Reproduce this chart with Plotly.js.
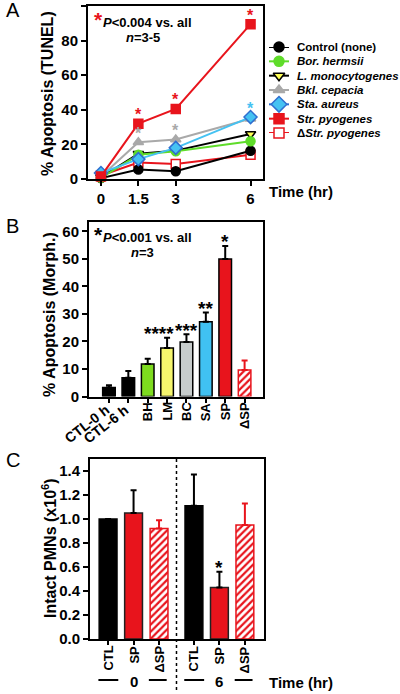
<!DOCTYPE html>
<html><head><meta charset="utf-8">
<script src="https://cdn.plot.ly/plotly-3.0.1.min.js"></script>
<style>html,body{margin:0;padding:0;background:#fff}#chart{width:400px;height:694px}</style>
</head><body><div id="chart"></div>
<script>
// ---------- Panel A data ----------
const timeA = [0, 1.5, 3, 6];
const timeTickText = ['0', '1.5', '3', '6'];
const seriesNames = ['Control (none)', 'Bor. hermsii', 'L. monocytogenes', 'Bkl. cepacia', 'Sta. aureus', 'Str. pyogenes', 'ΔStr. pyogenes'];
const legendTexts = ['Control (none)', '<i>Bor. hermsii</i>', '<i>L. monocytogenes</i>', '<i>Bkl. cepacia</i>', '<i>Sta. aureus</i>', '<i>Str. pyogenes</i>', 'Δ<i>Str. pyogenes</i>'];
const control = [0.5, 5.5, 4.5, 16.3];
const borHermsii = [0.7, 14.0, 16.0, 21.8];
const lMonocytogenes = [1.0, 14.6, 16.4, 26.0];
const bklCepacia = [1.5, 21.2, 22.8, 34.8];
const staAureus = [3.5, 11.5, 18.0, 35.8];
const strPyogenes = [1.5, 32.0, 40.5, 89.5];
const deltaStrPyogenes = [2.0, 9.5, 8.7, 14.0];
// significance marks in A: [series index, time index]
const starsA = [[5, 1], [5, 2], [5, 3], [3, 1], [3, 2], [4, 3]];

// ---------- Panel B data ----------
const bCategories = ['CTL-0 h', 'CTL-6 h', 'BH', 'LM', 'BC', 'SA', 'SP', 'ΔSP'];
const bMeans = [3.3, 6.8, 11.8, 17.6, 19.8, 27.2, 50.0, 9.6];
const bSem = [0.8, 2.5, 1.9, 3.7, 2.8, 3.3, 4.7, 3.5];
const bStars = ['', '', '', '****', '***', '**', '*', ''];

// ---------- Panel C data ----------
const cTimes = ['0', '6'];
const cLabels = ['CTL', 'SP', 'ΔSP'];
const cCTL = [1.00, 1.11];
const cSP = [1.05, 0.43];
const cDSP = [0.92, 0.95];
const cCTLsem = [0, 0.26];
const cSPsem = [0.19, 0.13];
const cDSPsem = [0.07, 0.18];
const cStars = [['', '', ''], ['', '*', '']];

// ---------- styles ----------
const FONT = 'Liberation Sans, Arial, sans-serif';
const RED = '#e8141c';
const H = 694, W = 400;
const py = p => (H - p) / H;   // pixel y -> paper
const px = p => p / W;         // pixel x -> paper

const styleA = [
  {color: '#000000', symbol: 'circle', fill: '#000000', line: '#000000'},
  {color: '#5fdc2a', symbol: 'circle', fill: '#5fdc2a', line: '#5fdc2a'},
  {color: '#000000', symbol: 'triangle-down', fill: '#ffff55', line: '#000000'},
  {color: '#a9a9a9', symbol: 'triangle-up', fill: '#a9a9a9', line: '#a9a9a9'},
  {color: '#45c2f2', symbol: 'diamond', fill: '#45c2f2', line: '#2f6fd0'},
  {color: RED, symbol: 'square', fill: RED, line: RED},
  {color: RED, symbol: 'square', fill: '#ffffff', line: RED}
];
const seriesA = [control, borHermsii, lMonocytogenes, bklCepacia, staAureus, strPyogenes, deltaStrPyogenes];

const traces = [];
const drawOrder = [6, 0, 2, 1, 3, 4, 5];
drawOrder.forEach(i => {
  const s = styleA[i];
  traces.push({
    type: 'scatter', mode: 'lines+markers', name: seriesNames[i],
    x: timeA, y: seriesA[i], xaxis: 'x', yaxis: 'y', cliponaxis: false,
    line: {color: s.color, width: 2},
    marker: {symbol: s.symbol, size: s.symbol === 'diamond' ? 10 : 9, color: s.fill, line: {color: s.line, width: 1.5}},
    showlegend: false
  });
});

// custom legend on its own hidden axes (x4/y4)
seriesNames.forEach((n, i) => {
  const s = styleA[i];
  traces.push({type: 'scatter', mode: 'lines', x: [0, 1], y: [i, i], xaxis: 'x4', yaxis: 'y4',
    line: {color: s.symbol === 'diamond' ? s.line : s.color, width: 2}, showlegend: false, hoverinfo: 'skip'});
  traces.push({type: 'scatter', mode: 'markers', x: [0.5], y: [i], xaxis: 'x4', yaxis: 'y4', cliponaxis: false,
    marker: {symbol: s.symbol, size: s.symbol === 'diamond' ? 12 : 10, color: s.fill, line: {color: s.line, width: 1.5}},
    showlegend: false, hoverinfo: 'skip'});
});

// Panel B bars
const bSolidColors = ['#000000', '#000000', '#7edb1f', '#f5f56d', '#c7cccc', '#40c1f2', RED];
traces.push({
  type: 'bar', x: bCategories.slice(0, 7), y: bMeans.slice(0, 7), xaxis: 'x2', yaxis: 'y2', width: 0.65,
  marker: {color: bSolidColors, line: {color: '#000000', width: 1.5}},
  error_y: {type: 'data', symmetric: false, array: bSem.slice(0, 7), arrayminus: bSem.slice(0, 7).map(() => 0), color: '#000000', thickness: 2, width: 3},
  showlegend: false
});
traces.push({
  type: 'bar', x: bCategories.slice(7), y: bMeans.slice(7), xaxis: 'x2', yaxis: 'y2', width: 0.65,
  marker: {color: '#ffffff', line: {color: RED, width: 1.5}, pattern: {shape: '/', fgcolor: RED, bgcolor: '#ffffff', size: 5, solidity: 0.45, fillmode: 'replace'}},
  error_y: {type: 'data', symmetric: false, array: bSem.slice(7), arrayminus: [0], color: RED, thickness: 2, width: 3},
  showlegend: false
});

// Panel C bars
const groupStep = 3.37;
const cPos = (g, i) => g * groupStep + i;
const cX = k => cTimes.map((t, g) => cPos(g, k));
traces.push({
  type: 'bar', x: cX(0), y: cCTL, xaxis: 'x3', yaxis: 'y3', width: 0.7,
  marker: {color: '#000000', line: {color: '#000000', width: 1.5}},
  error_y: {type: 'data', symmetric: false, array: cCTLsem, arrayminus: [0, 0], color: '#000000', thickness: 2, width: 3},
  showlegend: false
});
traces.push({
  type: 'bar', x: cX(1), y: cSP, xaxis: 'x3', yaxis: 'y3', width: 0.7,
  marker: {color: RED, line: {color: '#222222', width: 1.5}},
  error_y: {type: 'data', symmetric: false, array: cSPsem, arrayminus: [0, 0], color: '#000000', thickness: 2, width: 3},
  showlegend: false
});
traces.push({
  type: 'bar', x: cX(2), y: cDSP, xaxis: 'x3', yaxis: 'y3', width: 0.7,
  marker: {color: '#ffffff', line: {color: RED, width: 1.5}, pattern: {shape: '/', fgcolor: RED, bgcolor: '#ffffff', size: 5, solidity: 0.45, fillmode: 'replace'}},
  error_y: {type: 'data', symmetric: false, array: cDSPsem, arrayminus: [0, 0], color: RED, thickness: 2, width: 3},
  showlegend: false
});

// ---------- annotations ----------
const ann = [];
const bold = (size, color) => ({family: FONT, size: size, color: color || '#000', weight: 'bold'});
// panel letters
[['A', 10], ['B', 226], ['C', 460]].forEach(([t, y]) => ann.push({text: t, xref: 'paper', yref: 'paper', x: px(4), y: py(y), xanchor: 'left', yanchor: 'middle', showarrow: false, font: {family: FONT, size: 20, color: '#000'}}));
// axis titles
ann.push({text: '% Apoptosis (TUNEL)', textangle: -90, xref: 'paper', yref: 'paper', x: px(47), y: py(94), xanchor: 'center', yanchor: 'middle', showarrow: false, font: bold(16)});
ann.push({text: '% Apoptosis (Morph.)', textangle: -90, xref: 'paper', yref: 'paper', x: px(49), y: py(315), xanchor: 'center', yanchor: 'middle', showarrow: false, font: bold(16)});
ann.push({text: 'Intact PMNs (x10<sup>6</sup>)', textangle: -90, xref: 'paper', yref: 'paper', x: px(49), y: py(548), xanchor: 'center', yanchor: 'middle', showarrow: false, font: bold(16)});
ann.push({text: 'Time (hr)', xref: 'paper', yref: 'paper', x: px(267), y: py(192), xanchor: 'left', yanchor: 'middle', showarrow: false, font: bold(15)});
ann.push({text: 'Time (hr)', xref: 'paper', yref: 'paper', x: px(267), y: py(682), xanchor: 'left', yanchor: 'middle', showarrow: false, font: bold(15)});
// stats text
ann.push({text: '*', xref: 'paper', yref: 'paper', x: px(92), y: py(19), xanchor: 'left', yanchor: 'middle', showarrow: false, font: bold(21, RED)});
ann.push({text: '<i>P</i><0.004 vs. all', xref: 'paper', yref: 'paper', x: px(101), y: py(22), xanchor: 'left', yanchor: 'middle', showarrow: false, font: bold(13)});
ann.push({text: '<i>n</i>=3-5', xref: 'paper', yref: 'paper', x: px(124), y: py(38), xanchor: 'left', yanchor: 'middle', showarrow: false, font: bold(13)});
ann.push({text: '*', xref: 'paper', yref: 'paper', x: px(92), y: py(234), xanchor: 'left', yanchor: 'middle', showarrow: false, font: bold(21)});
ann.push({text: '<i>P</i><0.001 vs. all', xref: 'paper', yref: 'paper', x: px(101), y: py(237), xanchor: 'left', yanchor: 'middle', showarrow: false, font: bold(13)});
ann.push({text: '<i>n</i>=3', xref: 'paper', yref: 'paper', x: px(129), y: py(253), xanchor: 'left', yanchor: 'middle', showarrow: false, font: bold(13)});
// legend texts
legendTexts.forEach((t, i) => ann.push({text: t, xref: 'paper', yref: 'y4', x: px(295), y: i, xanchor: 'left', yanchor: 'middle', showarrow: false, font: bold(11.5)}));
// stars in A
const starColorA = {5: RED, 3: '#a9a9a9', 4: '#45c2f2'};
starsA.forEach(([s, t]) => ann.push({text: '*', xref: 'x', yref: 'y', x: timeA[t], y: seriesA[s][t], yshift: 9, xanchor: 'center', yanchor: 'middle', showarrow: false, font: bold(16, starColorA[s])}));
// stars in B
bStars.forEach((t, i) => { if (t) ann.push({text: t, xref: 'x2', yref: 'y2', x: bCategories[i], y: bMeans[i] + bSem[i], xshift: t.length === 4 ? -8 : 0, yshift: 4, xanchor: 'center', yanchor: 'middle', showarrow: false, font: bold(19)}); });
// stars in C
const cSems = [cCTLsem, cSPsem, cDSPsem], cVals = [cCTL, cSP, cDSP];
cStars.forEach((row, g) => row.forEach((t, k) => { if (t) ann.push({text: t, xref: 'x3', yref: 'y3', x: cPos(g, k), y: cVals[k][g] + cSems[k][g], yshift: 4, xanchor: 'center', yanchor: 'middle', showarrow: false, font: bold(19)}); }));
// B tick labels
bCategories.forEach((c, i) => {
  if (i < 2) ann.push({text: c, textangle: -38, xref: 'x2', yref: 'paper', x: c, y: py(399), xanchor: 'right', yanchor: 'top', xshift: 6, showarrow: false, font: bold(14)});
  else ann.push({text: c, textangle: -90, xref: 'x2', yref: 'paper', x: c, y: py(400), xanchor: 'center', yanchor: 'top', showarrow: false, font: bold(13)});
});
// C tick labels and group labels
const shapes = [];
cTimes.forEach((t, g) => {
  cLabels.forEach((l, k) => ann.push({text: l, textangle: -90, xref: 'x3', yref: 'paper', x: cPos(g, k), y: py(644), xanchor: 'center', yanchor: 'top', showarrow: false, font: bold(13)}));
  const c = cPos(g, 1);
  ann.push({text: t, xref: 'x3', yref: 'paper', x: c, y: py(681), xanchor: 'center', yanchor: 'middle', showarrow: false, font: bold(15)});
  shapes.push({type: 'line', xref: 'x3', yref: 'paper', x0: cPos(g, 0) - 0.38, x1: c - 0.6, y0: py(680), y1: py(680), line: {color: '#000', width: 2}});
  shapes.push({type: 'line', xref: 'x3', yref: 'paper', x0: c + 0.6, x1: cPos(g, 2) + 0.3, y0: py(680), y1: py(680), line: {color: '#000', width: 2}});
});
const midC = (cPos(0, 2) + cPos(1, 0)) / 2;
shapes.push({type: 'line', xref: 'x3', yref: 'paper', x0: midC, x1: midC, y0: py(459), y1: py(690), line: {color: '#000', width: 1.5, dash: 'dot'}});

const axisCommon = {showline: true, linewidth: 2, linecolor: '#000', mirror: true, ticks: 'outside', ticklen: 5, tickwidth: 2, tickcolor: '#000', showgrid: false, zeroline: false, tickfont: {family: FONT, size: 15, color: '#000', weight: 'bold'}, fixedrange: true};

const layout = {
  width: W, height: H, margin: {l: 0, r: 0, t: 0, b: 0, pad: 0},
  paper_bgcolor: '#fff', plot_bgcolor: 'rgba(0,0,0,0)', showlegend: false, barmode: 'overlay',
  font: {family: FONT, color: '#000'},
  xaxis: Object.assign({}, axisCommon, {domain: [px(88), px(263)], range: [-0.52, 6.5], tickmode: 'array', tickvals: timeA, ticktext: timeTickText, anchor: 'y'}),
  yaxis: Object.assign({}, axisCommon, {domain: [py(179), py(6)], range: [0, 100], dtick: 20, anchor: 'x'}),
  xaxis2: Object.assign({}, axisCommon, {domain: [px(89), px(263)], type: 'category', categoryorder: 'array', categoryarray: bCategories, range: [-1.03, 7.95], showticklabels: false, ticklen: 4, anchor: 'y2'}),
  yaxis2: Object.assign({}, axisCommon, {domain: [py(396.5), py(222)], range: [0, 63.4], dtick: 10, anchor: 'x2'}),
  xaxis3: Object.assign({}, axisCommon, {domain: [px(90), px(264)], range: [-0.71, 6.12], tickmode: 'array', tickvals: [0, 1, 2, 3, 4, 5].map(j => cPos(Math.floor(j / 3), j % 3)), showticklabels: false, ticklen: 4, anchor: 'y3'}),
  yaxis3: Object.assign({}, axisCommon, {domain: [py(639), py(459)], range: [0, 1.5], dtick: 0.2, tickformat: '.1f', anchor: 'x3'}),
  xaxis4: {domain: [px(269), px(289)], range: [0, 1], visible: false, fixedrange: true, anchor: 'y4'},
  yaxis4: {domain: [py(133), py(47)], range: [6, 0], visible: false, fixedrange: true, anchor: 'x4'},
  annotations: ann, shapes: shapes
};

Plotly.newPlot('chart', traces, layout, {staticPlot: true, displayModeBar: false});
</script></body></html>
